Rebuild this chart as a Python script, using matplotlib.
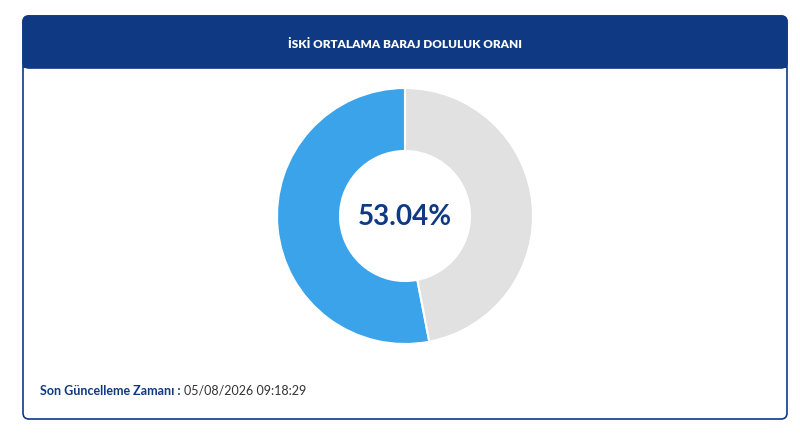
import matplotlib

matplotlib.use("Agg")
import matplotlib.pyplot as plt
from matplotlib.patches import FancyBboxPatch, Rectangle

TITLE = "İSKİ ORTALAMA BARAJ DOLULUK ORANI"
FILL_PCT = 53.04
VALUES = [FILL_PCT, 100 - FILL_PCT]
COLORS = ["#3aa3e9", "#e1e1e1"]
FOOT_LABEL = "Son Güncelleme Zamanı :"
FOOT_VALUE = "05/08/2026 09:18:29"

NAVY = "#0f3a83"

plt.rcParams["font.family"] = ["Lato", "DejaVu Sans"]

fig = plt.figure(figsize=(8.0, 4.39), dpi=100)
ax = fig.add_axes([0, 0, 1, 1])
ax.set_xlim(0, 800)
ax.set_ylim(439, 0)
ax.set_aspect("equal")
ax.axis("off")

# card outline and header band
ax.add_patch(FancyBboxPatch((23, 17), 764, 403, boxstyle="round,pad=0,rounding_size=6",
                            facecolor="white", edgecolor=NAVY, linewidth=1.2))
ax.add_patch(FancyBboxPatch((23, 17), 764, 52, boxstyle="round,pad=0,rounding_size=6",
                            facecolor=NAVY, edgecolor=NAVY, linewidth=1.2))
ax.add_patch(Rectangle((23, 50), 764, 19, facecolor=NAVY, edgecolor="none"))
ax.text(405, 44, TITLE, color="white", fontsize=8.5, fontweight="heavy",
        ha="center", va="center")

# donut: y axis is inverted, so angles are mirrored on screen
ax.pie(VALUES, colors=COLORS, center=(405, 217), radius=128, startangle=-90,
       counterclock=False, frame=True,
       wedgeprops=dict(width=63, edgecolor="white", linewidth=1.5))
ax.set_xlim(0, 800)
ax.set_ylim(439, 0)
ax.axis("off")
ax.text(405, 217, f"{FILL_PCT:.2f}%", color=NAVY, fontsize=20, fontweight="bold",
        ha="center", va="center")

t = ax.text(40, 391, FOOT_LABEL + " ", color=NAVY, fontsize=9, fontweight="bold",
            ha="left", va="center")
fig.canvas.draw()
bb = t.get_window_extent().transformed(ax.transData.inverted())
ax.text(bb.x1, 391, FOOT_VALUE, color="#333333", fontsize=9, ha="left", va="center")

fig.savefig("out.png", dpi=100, facecolor="white")
